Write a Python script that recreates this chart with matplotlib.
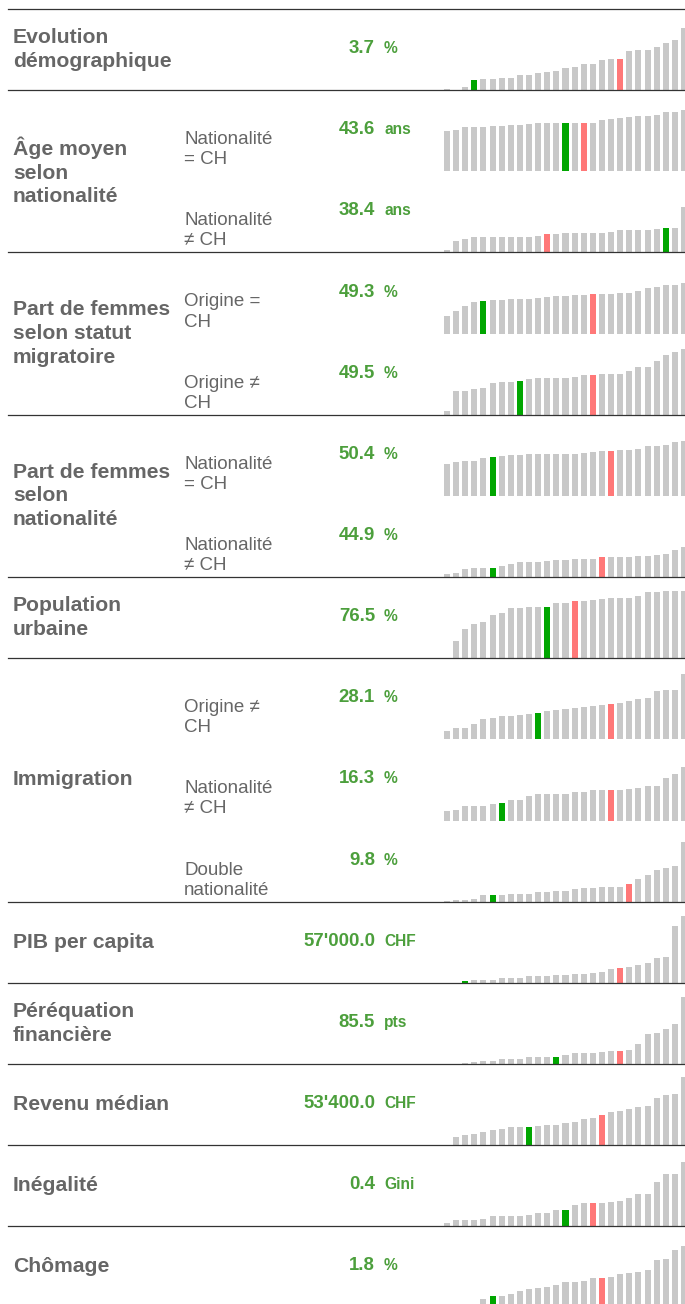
import matplotlib
matplotlib.use("Agg")
import matplotlib.pyplot as plt
from matplotlib.lines import Line2D

plt.rcParams['font.family'] = ['Liberation Sans', 'DejaVu Sans']

W, H = 685, 1304
TOP = 9          # first separator, px
ROW_H = 81.15    # height of one sub-row, px
CHART_H = 70     # px of chart area above each baseline

GREY_TEXT = "#666666"
GREEN_TEXT = "#4c9f3c"
BAR_GREY = "#c8c8c8"
BAR_GREEN = "#00a600"
BAR_RED = "#ff7878"
LINE_COL = "#333333"

# groups (main label, number of sub-rows)
group_labels = ["Evolution\ndémographique", "Âge moyen\nselon\nnationalité",
                "Part de femmes\nselon statut\nmigratoire", "Part de femmes\nselon\nnationalité",
                "Population\nurbaine", "Immigration", "PIB per capita",
                "Péréquation\nfinancière", "Revenu médian", "Inégalité", "Chômage"]
group_sizes = [1, 2, 2, 2, 1, 3, 1, 1, 1, 1, 1]

# one entry per sub-row
sub_labels = ["", "Nationalité\n= CH", "Nationalité\n≠ CH", "Origine =\nCH", "Origine ≠\nCH",
              "Nationalité\n= CH", "Nationalité\n≠ CH", "", "Origine ≠\nCH", "Nationalité\n≠ CH",
              "Double\nnationalité", "", "", "", "", ""]
values = ["3.7", "43.6", "38.4", "49.3", "49.5", "50.4", "44.9", "76.5", "28.1", "16.3",
          "9.8", "57'000.0", "85.5", "53'400.0", "0.4", "1.8"]
units = ["%", "ans", "ans", "%", "%", "%", "%", "%", "%", "%", "%", "CHF", "pts", "CHF", "Gini", "%"]
green_idx = [3, 13, 24, 4, 8, 5, 5, 11, 10, 6, 5, 2, 12, 9, 13, 5]
red_idx = [19, 15, 11, 16, 16, 18, 17, 14, 18, 18, 20, 19, 19, 17, 16, 17]

# bar heights (cantons sorted) in chart units
evo = [1, 0, 3, 10, 11, 11, 12, 12, 15, 15, 17, 18, 19, 22, 23, 26, 26, 30, 31, 31, 39, 40, 40, 43, 47, 50, 62]
age_ch = [40, 41, 44, 44, 44, 45, 45, 46, 46, 47, 48, 48, 48, 48, 48, 48, 48, 51, 52, 53, 54, 55, 55, 56, 59, 59, 61]
age_etr = [2.3, 11.3, 13.3, 15.3, 15.3, 15.3, 15.3, 15.3, 15.3, 15.3, 16.3, 18.3, 18.3, 19.3, 19.3, 19.3, 19.3,
           19.3, 20.3, 22.3, 22.3, 22.3, 22.3, 23.3, 24.3, 24.3, 45.3]
fem_orig_ch = [17.7, 22.7, 27.7, 31.7, 32.7, 33.7, 33.7, 34.7, 34.7, 34.7, 35.7, 36.7, 37.7, 37.7, 38.7, 38.7,
               39.7, 39.7, 39.7, 40.7, 40.7, 42.7, 45.7, 46.7, 48.7, 48.7, 50.7]
fem_orig_etr = [4, 24, 24, 26, 27, 32, 33, 33, 34, 36, 37, 37, 37, 37, 38, 40, 40, 41, 41, 41, 44, 48, 48, 54, 60, 63, 66]
fem_nat_ch = [32, 34, 35, 35, 38, 39, 40, 41, 41, 42, 42, 42, 42, 42, 42, 43, 44, 45, 45, 46, 46, 47, 50, 50, 51, 54, 55]
fem_nat_etr = [3.3, 4.3, 8.3, 9.3, 9.3, 9.3, 11.3, 13.3, 15.3, 15.3, 15.3, 16.3, 17.3, 17.3, 18.3, 18.3, 18.3,
               20.3, 20.3, 20.3, 20.3, 21.3, 21.3, 22.3, 23.3, 27.3, 30.3]
pop_urb = [0, 17.7, 29.7, 34.7, 36.7, 43.7, 45.7, 50.7, 50.7, 51.7, 51.7, 51.7, 55.7, 55.7, 57.7, 57.7, 58.7,
           59.7, 60.7, 60.7, 60.7, 62.7, 66.7, 66.7, 67.7, 67.7, 67.7]
imm_orig = [8.7, 11.7, 11.7, 15.7, 20.7, 21.7, 23.7, 23.7, 24.7, 25.7, 26.7, 28.7, 29.7, 30.7, 31.7, 32.7, 33.7,
            34.7, 35.7, 36.7, 38.7, 40.7, 41.7, 48.7, 49.7, 49.7, 65.7]
imm_nat = [10, 11, 15, 15, 15, 17, 18, 21, 21, 25, 27, 27, 27, 27, 29, 29, 31, 31, 31, 31, 32, 33, 35, 35, 43, 47, 54]
imm_double = [0.7, 2, 2, 3, 7, 7, 7, 8, 8, 8, 10, 10, 11, 11, 13, 14, 14, 15, 15, 15, 18, 23, 27, 32, 34, 36, 60]
pib = [0, 0, 2.3, 3.3, 3.3, 3.3, 5.3, 5.3, 5.3, 7.3, 7.3, 7.3, 8.3, 8.3, 9.3, 9.3, 10.3, 11.3, 14.3, 15.3, 16.3,
       18.3, 20.3, 25.3, 26.3, 57.3, 67.3]
pereq = [0, 0, 1.3, 2.3, 3.3, 3.3, 5.3, 5.3, 5.3, 7.3, 7.3, 7.3, 7.3, 9.3, 11.3, 11.3, 11.3, 12.3, 13.3, 13.3,
         14.3, 20.3, 30.3, 31.3, 35.3, 40.3, 67.3]
revenu = [0, 8, 10, 11, 13, 15, 16, 18, 18, 18, 19, 20, 20, 22, 23, 26, 27, 30, 33, 34, 36, 38, 39, 47, 50, 51, 68]
inegal = [3, 6, 6, 6, 7, 10, 10, 10, 10, 11, 13, 13, 16, 16, 21, 23, 23, 23, 24, 25, 28, 32, 32, 44, 52, 52, 64]
chomage = [0.5, 1, 1.5, 2, 8, 11, 11, 13, 16, 18, 19, 20, 22, 25, 25, 26, 29, 29, 30, 33, 34, 35, 37, 47, 48, 57, 61]

series = [evo, age_ch, age_etr, fem_orig_ch, fem_orig_etr, fem_nat_ch, fem_nat_etr, pop_urb,
          imm_orig, imm_nat, imm_double, pib, pereq, revenu, inegal, chomage]


def fy(y):
    # pixel y (from top) -> figure coords
    return 1 - y / H


fig = plt.figure(figsize=(W / 100, H / 100), dpi=100)

# sparklines
for k, heights in enumerate(series):
    base = TOP + (k + 1) * ROW_H
    ax = fig.add_axes([443 / W, fy(base), (W - 443) / W, CHART_H / H])
    colors = [BAR_GREY] * len(heights)
    colors[green_idx[k]] = BAR_GREEN
    colors[red_idx[k]] = BAR_RED
    ax.bar(range(len(heights)), heights, width=0.66, color=colors, linewidth=0)
    ax.set_xlim(-0.44, 26.11)
    ax.set_ylim(0, CHART_H)
    ax.axis("off")

    mid = base - ROW_H / 2
    fig.text(375 / W, fy(mid - 1), values[k], ha="right", va="center", fontsize=13.4,
             fontweight="bold", color=GREEN_TEXT)
    fig.text(384 / W, fy(mid - 1), units[k], ha="left", va="center", fontsize=11.2,
             fontweight="bold", color=GREEN_TEXT)
    if sub_labels[k]:
        fig.text(184 / W, fy(mid + 19), sub_labels[k], ha="left", va="center", fontsize=13.5,
                 color=GREY_TEXT, linespacing=1.24)

# group labels and separators
row = 0
fig.add_artist(Line2D([8 / W, 1], [fy(TOP)] * 2, color=LINE_COL, lw=0.9, zorder=5))
for label, n in zip(group_labels, group_sizes):
    top = TOP + row * ROW_H
    bottom = top + n * ROW_H
    fig.text(13 / W, fy((top + bottom) / 2), label, ha="left", va="center", fontsize=15.2,
             fontweight="bold", color=GREY_TEXT, linespacing=1.32)
    if bottom < H:
        fig.add_artist(Line2D([8 / W, 1], [fy(bottom)] * 2, color=LINE_COL, lw=0.9, zorder=5))
    row += n

fig.savefig("out.png", dpi=100)
